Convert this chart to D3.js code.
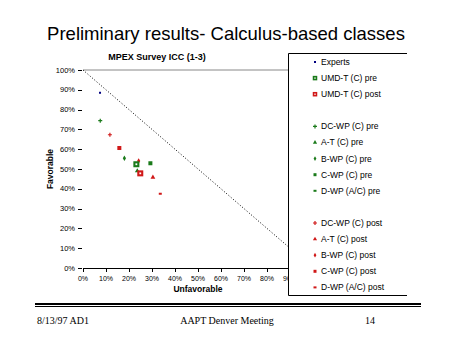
<!DOCTYPE html>
<html><head><meta charset="utf-8">
<script src="https://cdn.jsdelivr.net/npm/d3@7"></script>
<style>
html,body{margin:0;padding:0;background:#fff;}
svg{display:block;}
text{font-family:Arial,"Liberation Sans",sans-serif;}
</style></head>
<body><svg id="c" width="452" height="339"></svg>
<script>
// ---- data ----
const seriesNames = ["Experts","UMD-T (C) pre","UMD-T (C) post",null,
  "DC-WP (C) pre","A-T (C) pre","B-WP (C) pre","C-WP (C) pre","D-WP (A/C) pre",null,
  "DC-WP (C) post","A-T (C) post","B-WP (C) post","C-WP (C) post","D-WP (A/C) post"];
// unfavorable (x) and favorable (y), in percent
const unfavorable = [7.4, 23.2, 24.9, null, 7.5, 23.6, 18.0, 29.3, 23.0, null, 11.7, 30.4, 24.2, 15.8, 33.6];
const favorable   = [88.5, 52.4, 47.8, null, 74.4, 49.0, 55.4, 52.9, 52.8, null, 67.3, 45.8, 54.0, 60.6, 37.5];
const markerShapes = ["dot","hsquare","hsquare",null,"plus","tri","dplus","square","dash",null,"plus","tri","dplus","square","dash"];
const markerColors = ["#000080","#1a7a1a","#d01818",null,"#1a7a1a","#1a7a1a","#1a7a1a","#1a7a1a","#1a7a1a",null,"#d01818","#d01818","#d01818","#d01818","#d01818"];
const xTicks = [0,10,20,30,40,50,60,70,80,90,100];
const yTicks = [0,10,20,30,40,50,60,70,80,90,100];
const expertLine = [[0,100],[100,0]];

const svg = d3.select("#c");
const x = d3.scaleLinear().domain([0,100]).range([83,313]);
const y = d3.scaleLinear().domain([0,100]).range([268,70]);

// slide title
svg.append("text").attr("x",226).attr("y",40).attr("text-anchor","middle")
  .style("font-size","18.5px").text("Preliminary results- Calculus-based classes");

// chart title
svg.append("text").attr("x",157).attr("y",60).attr("text-anchor","middle")
  .style("font-size","9px").style("font-weight","bold").text("MPEX Survey ICC (1-3)");

// top border (gray)
svg.append("line").attr("x1",x(0)).attr("x2",x(100)).attr("y1",y(100)).attr("y2",y(100))
  .attr("stroke","#888").attr("stroke-width",1);

// expert diagonal
svg.append("path").datum(expertLine)
  .attr("d",d3.line().x(d=>x(d[0])).y(d=>y(d[1])))
  .attr("stroke","#000").attr("stroke-width",1).attr("stroke-dasharray","1,2").attr("fill","none");

// y axis ticks + labels
const yg = svg.append("g");
yg.selectAll("line").data(yTicks).join("line")
  .attr("x1",78).attr("x2",82).attr("y1",d=>Math.round(y(d))+0.5).attr("y2",d=>Math.round(y(d))+0.5)
  .attr("stroke","#000");
yg.selectAll("text").data(yTicks).join("text")
  .attr("x",75).attr("y",d=>y(d)).attr("dy","0.35em").attr("text-anchor","end")
  .style("font-size","7.5px").text(d=>d+"%");

// x axis
const xg = svg.append("g");
xg.append("line").attr("x1",x(0)).attr("x2",x(100)).attr("y1",268.5).attr("y2",268.5).attr("stroke","#000");
xg.selectAll("line.t").data(xTicks).join("line").attr("class","t")
  .attr("x1",d=>Math.round(x(d))+0.5).attr("x2",d=>Math.round(x(d))+0.5).attr("y1",268).attr("y2",272)
  .attr("stroke","#000");
xg.selectAll("text").data(xTicks).join("text")
  .attr("x",d=>x(d)).attr("y",280.5).attr("text-anchor","middle")
  .style("font-size","7px").text(d=>d+"%");

// axis titles
svg.append("text").attr("x",x(50)).attr("y",292).attr("text-anchor","middle")
  .style("font-size","8.5px").style("font-weight","bold").text("Unfavorable");
svg.append("text").attr("transform",`translate(53,${y(50)}) rotate(-90)`).attr("text-anchor","middle")
  .style("font-size","8.5px").style("font-weight","bold").text("Favorable");

// marker drawing
function drawMarker(g, shape, color, cx, cy, s){
  s = s||1;
  if(shape==="dot"){
    g.append("rect").attr("x",cx-1).attr("y",cy-1).attr("width",2).attr("height",2).attr("fill",color);
  } else if(shape==="hsquare"){
    g.append("rect").attr("x",cx-3*s).attr("y",cy-3*s).attr("width",6*s).attr("height",6*s).attr("fill",color);
    g.append("rect").attr("x",cx-0.9*s).attr("y",cy-0.9*s).attr("width",1.8*s).attr("height",1.8*s).attr("fill","#fff");
  } else if(shape==="square"){
    g.append("rect").attr("x",cx-2*s).attr("y",cy-2*s).attr("width",4*s).attr("height",4*s).attr("fill",color);
  } else if(shape==="plus"){
    g.append("path").attr("d",`M${cx-2},${cy}H${cx+2}M${cx},${cy-2}V${cy+2}`).attr("stroke",color).attr("stroke-width",1.2);
  } else if(shape==="dplus"){
    g.append("path").attr("d",d3.symbol(d3.symbolDiamond, 9*s)()).attr("transform",`translate(${cx},${cy})`).attr("fill",color);
  } else if(shape==="tri"){
    g.append("path").attr("d",d3.symbol(d3.symbolTriangle, 10*s)()).attr("transform",`translate(${cx},${cy})`).attr("fill",color);
  } else if(shape==="dash"){
    g.append("rect").attr("x",cx-1.5).attr("y",cy-1).attr("width",3).attr("height",2).attr("fill",color);
  }
}

// points (ordinary series first, then UMD squares on top)
const pts = svg.append("g");
const order = [0,4,5,6,7,8,10,11,12,13,14,1,2];
order.forEach(i=>{
  drawMarker(pts, markerShapes[i], markerColors[i], x(unfavorable[i]), y(favorable[i]), 1);
});

// legend (white box covering right part of plot)
const lg = svg.append("g");
lg.append("rect").attr("x",288).attr("y",53).attr("width",120).attr("height",243).attr("fill","#fff");
lg.append("path").attr("d","M407,53.5H288.5V295.5H407").attr("stroke","#000").attr("fill","none");
seriesNames.forEach((name,i)=>{
  if(!name) return;
  const ry = 62 + 16.1*i;
  drawMarker(lg, markerShapes[i], markerColors[i], 315, ry, 0.75);
  lg.append("text").attr("x",321).attr("y",ry).attr("dy","0.35em")
    .style("font-size","8.5px").text(name);
});

// footer
svg.append("line").attr("x1",35).attr("x2",421).attr("y1",304).attr("y2",304).attr("stroke","#000").attr("stroke-width",2);
svg.append("line").attr("x1",35).attr("x2",421).attr("y1",306.5).attr("y2",306.5).attr("stroke","#000").attr("stroke-width",1);
const ff = "'Liberation Serif','Times New Roman',serif";
svg.append("text").attr("x",37).attr("y",324).style("font-family",ff).style("font-size","10px").text("8/13/97 AD1");
svg.append("text").attr("x",227).attr("y",324).attr("text-anchor","middle").style("font-family",ff).style("font-size","10px").text("AAPT Denver Meeting");
svg.append("text").attr("x",365).attr("y",324).style("font-family",ff).style("font-size","10px").text("14");
</script></body></html>
